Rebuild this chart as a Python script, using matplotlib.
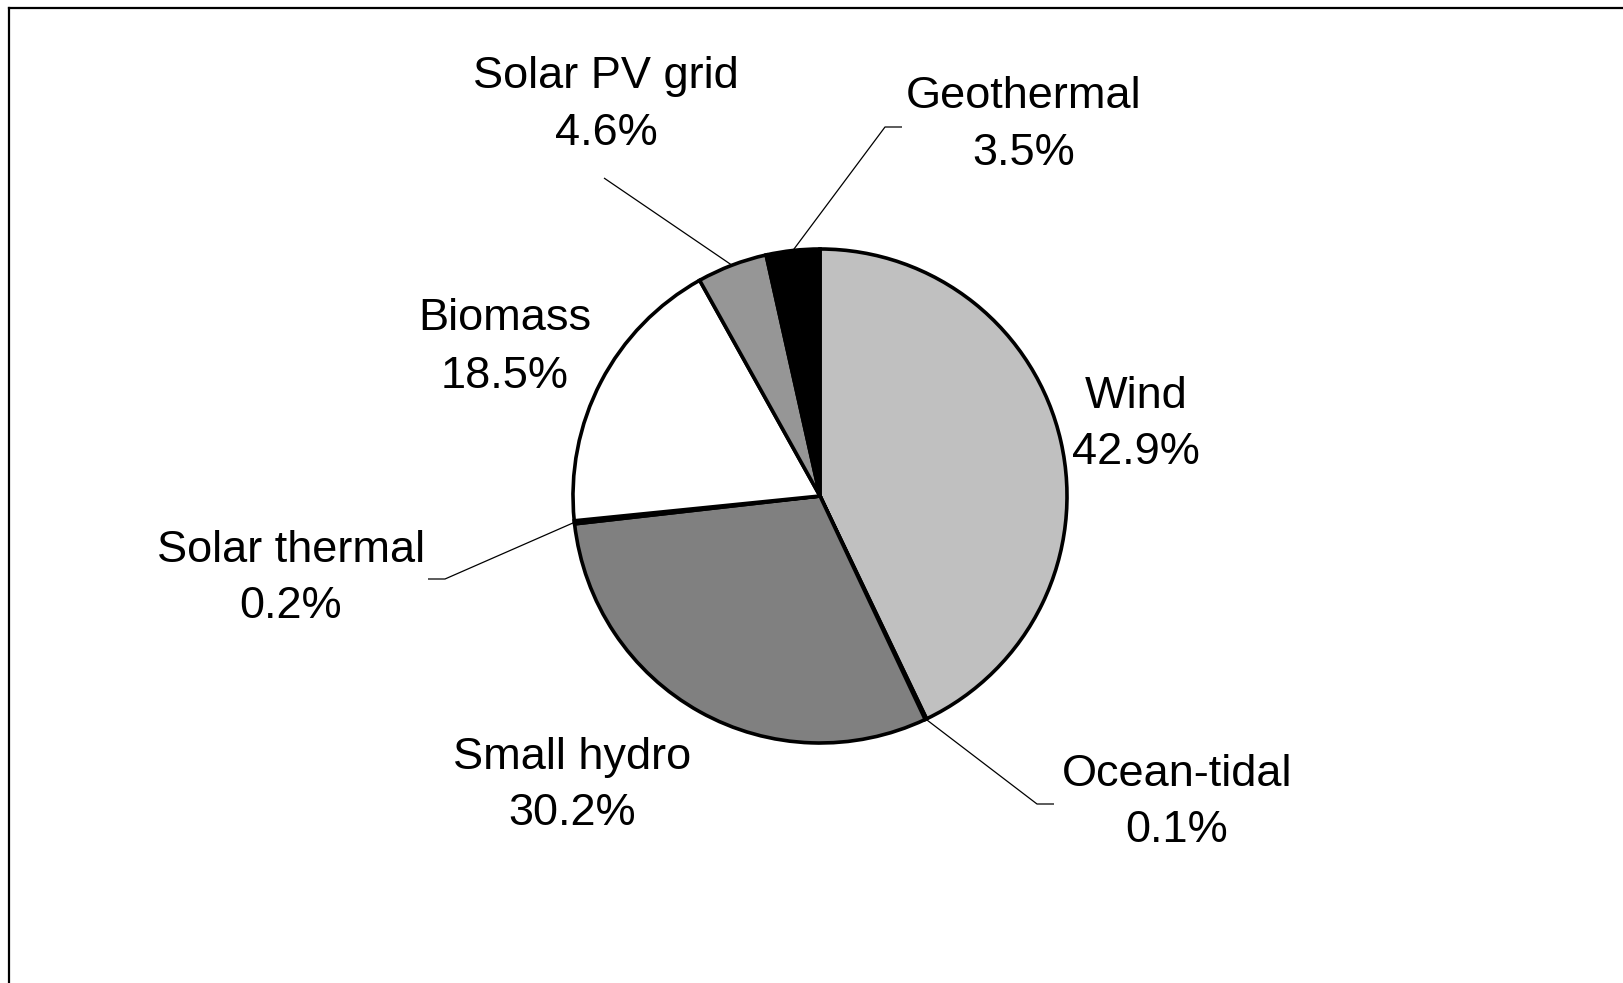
import numpy as np
import matplotlib
matplotlib.use("Agg")
import matplotlib.pyplot as plt

plt.rcParams['font.family'] = ['Liberation Sans', 'DejaVu Sans']

# --- data ---
labels = ["Wind", "Ocean-tidal", "Small hydro", "Solar thermal",
          "Biomass", "Solar PV grid", "Geothermal"]
shares = [42.9, 0.1, 30.2, 0.2, 18.5, 4.6, 3.5]
colors = ["#c0c0c0", "#c0c0c0", "#808080", "#808080",
          "#ffffff", "#969696", "#000000"]

# label placement (pixel coords, y from top) and leader-line elbow points
label_pos = {
    "Wind": (1136, 396),
    "Ocean-tidal": (1177, 774),
    "Small hydro": (572, 757),
    "Solar thermal": (291, 550),
    "Biomass": (505, 319),
    "Solar PV grid": (606, 76),
    "Geothermal": (1024, 96),
}
leaders = {
    "Ocean-tidal": [(1054, 804), (1037, 804)],
    "Solar thermal": [(428, 579), (445, 579)],
    "Solar PV grid": [(604, 178)],
    "Geothermal": [(902, 127), (885, 127)],
}

W, H = 1624, 983
fig = plt.figure(figsize=(W / 100, H / 100), dpi=100)
ax = fig.add_axes([0, 0, 1, 1])

cx, cy, r = 820, H - 496, 247
wedges, _ = ax.pie(shares, colors=colors, startangle=90, counterclock=False,
                   center=(cx, cy), radius=r, frame=True,
                   wedgeprops=dict(edgecolor="black", linewidth=2.6))
ax.set_xlim(0, W)
ax.set_ylim(0, H)
ax.set_aspect("equal")
ax.axis("off")

fs = 32.5
for name, val, w in zip(labels, shares, wedges):
    x, y = label_pos[name]
    ax.text(x, H - y, name, ha="center", va="center", fontsize=fs)
    ax.text(x, H - y - 57, f"{val}%", ha="center", va="center", fontsize=fs)
    if name in leaders:
        # leader ends on the wedge rim at its middle angle
        mid = np.deg2rad((w.theta1 + w.theta2) / 2)
        px, py = cx + r * np.cos(mid), cy + r * np.sin(mid)
        pts = [(a, H - b) for a, b in leaders[name]] + [(px, py)]
        xs, ys = zip(*pts)
        ax.plot(xs, ys, color="black", linewidth=0.9, solid_capstyle="butt")

# frame lines (top and left only)
fig.add_artist(plt.Line2D([9.5 / W, 9.5 / W], [0, 1 - 7.5 / H],
                          transform=fig.transFigure, color="black", linewidth=1.6))
fig.add_artist(plt.Line2D([9.5 / W, 1], [1 - 7.5 / H, 1 - 7.5 / H],
                          transform=fig.transFigure, color="black", linewidth=1.6))

fig.savefig("out.png", dpi=100, facecolor="white")
